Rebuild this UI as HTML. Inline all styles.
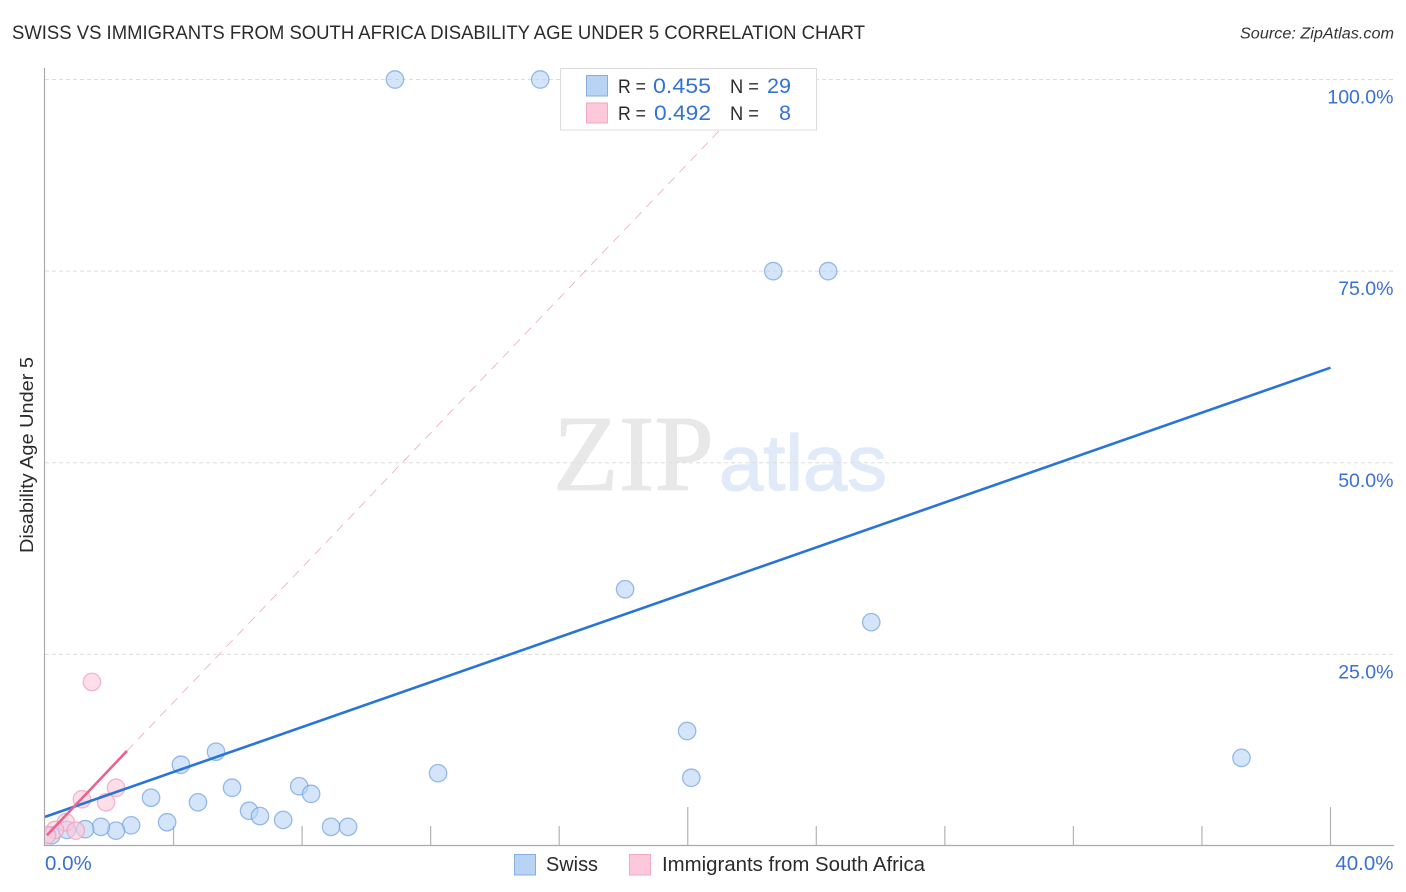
<!DOCTYPE html>
<html lang="en">
<head>
<meta charset="utf-8">
<title>Swiss vs Immigrants from South Africa Disability Age Under 5 Correlation Chart</title>
<style>
html,body{margin:0;padding:0;background:#fff;width:1406px;height:892px;overflow:hidden}
svg{display:block}
text{font-family:"Liberation Sans",sans-serif}
</style>
</head>
<body>
<svg id="chart" xmlns="http://www.w3.org/2000/svg" width="1406" height="892" viewBox="0 0 1406 892">
  <defs>
    <clipPath id="plot-clip"><rect x="45" y="60" width="1349" height="785"/></clipPath>
  </defs>
  <text x="12" y="39" font-size="19" fill="#2b2b2b" textLength="853" lengthAdjust="spacingAndGlyphs">SWISS VS IMMIGRANTS FROM SOUTH AFRICA DISABILITY AGE UNDER 5 CORRELATION CHART</text>
  <text x="1394" y="38.5" font-size="15.5" font-style="italic" fill="#333" text-anchor="end" textLength="154" lengthAdjust="spacingAndGlyphs">Source: ZipAtlas.com</text>

  <g id="watermark">
    <text x="553" y="490" font-size="108" fill="#e8e8e8" stroke="#e8e8e8" stroke-width="1" textLength="161" lengthAdjust="spacingAndGlyphs" style="font-family:'Liberation Serif',serif">ZIP</text>
    <text x="719" y="490" font-size="79" fill="#e0eaf8" stroke="#e0eaf8" stroke-width="1.2" textLength="168" lengthAdjust="spacingAndGlyphs">atlas</text>
  </g>

  <g id="grid"></g>
  <g id="axes"></g>
  <g id="swiss-points" clip-path="url(#plot-clip)"></g>
  <g id="immigrant-points" clip-path="url(#plot-clip)"></g>
  <g id="trends"></g>

  <text transform="translate(33,455) rotate(-90)" font-size="18" fill="#2b2b2b" text-anchor="middle" textLength="196" lengthAdjust="spacingAndGlyphs">Disability Age Under 5</text>

  <g>
    <rect x="560.5" y="68.5" width="256" height="61.5" fill="#fff" stroke="#dcdcdc" stroke-width="1"/>
    <rect x="586.5" y="75.5" width="21" height="20.5" fill="#b9d3f5" stroke="#86aee3"/>
    <rect x="586.5" y="103" width="21" height="20" fill="#fcc8da" stroke="#f2a9c1"/>
    <text x="618" y="93" font-size="19" fill="#2b2b2b" textLength="28" lengthAdjust="spacingAndGlyphs">R =</text>
    <text x="653" y="93" font-size="21" fill="#3573d3" textLength="58" lengthAdjust="spacingAndGlyphs">0.455</text>
    <text x="730" y="93" font-size="19" fill="#2b2b2b" textLength="29" lengthAdjust="spacingAndGlyphs">N =</text>
    <text x="767" y="93" font-size="21" fill="#3573d3" textLength="24" lengthAdjust="spacingAndGlyphs">29</text>
    <text x="618" y="120" font-size="19" fill="#2b2b2b" textLength="28" lengthAdjust="spacingAndGlyphs">R =</text>
    <text x="654" y="120" font-size="21" fill="#3573d3" textLength="57" lengthAdjust="spacingAndGlyphs">0.492</text>
    <text x="730" y="120" font-size="19" fill="#2b2b2b" textLength="29" lengthAdjust="spacingAndGlyphs">N =</text>
    <text x="779" y="120" font-size="21" fill="#3573d3" textLength="12" lengthAdjust="spacingAndGlyphs">8</text>
  </g>

  <g>
    <rect x="514.5" y="854.5" width="21" height="20.5" fill="#b9d3f5" stroke="#86aee3"/>
    <text x="546" y="871" font-size="20" fill="#2b2b2b" textLength="52" lengthAdjust="spacingAndGlyphs">Swiss</text>
    <rect x="629.5" y="854.5" width="21" height="20.5" fill="#fcc8da" stroke="#f2a9c1"/>
    <text x="662" y="871" font-size="20" fill="#2b2b2b" textLength="263" lengthAdjust="spacingAndGlyphs">Immigrants from South Africa</text>
  </g>
</svg>
<script>
const swissX = [10.89,15.41,22.66,24.37,18.05,25.71,19.98,20.11,37.23,12.23,5.32,4.23,3.30,4.76,5.82,7.91,8.28,6.35,6.69,7.41,8.90,9.43,3.80,2.68,2.21,1.74,1.25,0.68,0.20];
const swissY = [100,100,75,75,33.5,29.2,15,8.9,11.5,9.5,12.3,10.6,6.3,5.7,7.6,7.8,6.8,4.6,3.9,3.4,2.5,2.5,3.1,2.7,2.0,2.5,2.2,2.1,1.4];
const immigrantX = [1.46,2.21,1.90,1.15,0.65,0.96,0.31,0.06];
const immigrantY = [21.4,7.6,5.7,6.1,3.1,2.0,2.1,1.4];
const swissTrendX = [0,40];
const swissTrendY = [3.8,62.4];
const immigrantTrendX = [0.06,2.55];
const immigrantTrendY = [1.4,12.4];
const immigrantDashX = [2.55,22.5];
const immigrantDashY = [12.4,100];
const xMinorTicks = [4,8,12,16,24,28,32,36];
const xMajorTicks = [20,40];
const yTickValues = [25,50,75,100];
const yTickLabels = ["25.0%","50.0%","75.0%","100.0%"];
const xEndValues = [0,40];
const xEndLabels = ["0.0%","40.0%"];

const NS = "http://www.w3.org/2000/svg";
function xScale(v){ return 45 + v * (1330.5 - 45) / 40; }
function yScale(v){ return 846 - v * (846 - 79.5) / 100; }
function make(tag, attrs, parent){
  const el = document.createElementNS(NS, tag);
  for (const k in attrs) el.setAttribute(k, attrs[k]);
  parent.appendChild(el);
  return el;
}

const grid = document.getElementById("grid");
yTickValues.forEach(function(v){
  const g = make("line", {x1:45, x2:1393, y1:yScale(v), y2:yScale(v), stroke:"#dddddd", "stroke-width":1, "stroke-dasharray":"4 3"}, grid);
  
  
});

const axes = document.getElementById("axes");
const yAxis = make("line", {x1:44.5, x2:44.5, y1:68, y2:846, stroke:"#aaaaaa", "stroke-width":1.2}, axes);


const xAxis = make("line", {x1:44, x2:1394, y1:845.5, y2:845.5, stroke:"#aaaaaa", "stroke-width":1.2}, axes);



xMinorTicks.forEach(function(v){
  const t = make("line", {x1:xScale(v), x2:xScale(v), y1:826, y2:845, stroke:"#b4b4b4", "stroke-width":1.2}, axes);
  
  
});
xMajorTicks.forEach(function(v){
  const t = make("line", {x1:xScale(v), x2:xScale(v), y1:807, y2:845, stroke:"#b4b4b4", "stroke-width":1.2}, axes);
  
  
});

yTickLabels.forEach(function(label, i){
  const t = make("text", {x:1393.5, y:yScale(yTickValues[i]) + 24, "font-size":19.5, fill:"#3a70d2", "text-anchor":"end"}, axes);
  
  
  t.textContent = label;
});
xEndLabels.forEach(function(label, i){
  const atEnd = xEndValues[i] > 0;
  const t = make("text", {x: atEnd ? xScale(xEndValues[i]) + 63 : xScale(xEndValues[i]), y:870, "font-size":20.5, fill:"#3a70d2", "text-anchor": atEnd ? "end" : "start"}, axes);
  
  
  t.textContent = label;
});

const swissLayer = document.getElementById("swiss-points");
swissX.forEach(function(x, i){
  const c = make("circle", {cx:xScale(x), cy:yScale(swissY[i]), r:8.7, fill:"#b9d3f5", "fill-opacity":0.6, stroke:"#6f9fe0", "stroke-opacity":0.7, "stroke-width":1.3}, swissLayer);
  
  
});

const immigrantLayer = document.getElementById("immigrant-points");
immigrantX.forEach(function(x, i){
  const c = make("circle", {cx:xScale(x), cy:yScale(immigrantY[i]), r:8.7, fill:"#fcc8da", "fill-opacity":0.6, stroke:"#f09ab8", "stroke-opacity":0.7, "stroke-width":1.3}, immigrantLayer);
  
  
});

const trends = document.getElementById("trends");
const swissTrend = make("line", {x1:xScale(swissTrendX[0]), y1:yScale(swissTrendY[0]), x2:xScale(swissTrendX[1]), y2:yScale(swissTrendY[1]), stroke:"#2a74d8", "stroke-width":2.6}, trends);


const immigrantTrend = make("line", {x1:xScale(immigrantTrendX[0]), y1:yScale(immigrantTrendY[0]), x2:xScale(immigrantTrendX[1]), y2:yScale(immigrantTrendY[1]), stroke:"#e8648f", "stroke-width":2.6}, trends);


const immigrantDash = make("line", {x1:xScale(immigrantDashX[0]), y1:yScale(immigrantDashY[0]), x2:xScale(immigrantDashX[1]), y2:yScale(immigrantDashY[1]), stroke:"#f0b0c5", "stroke-width":0.9, "stroke-dasharray":"9 7"}, trends);


</script>
</body>
</html>
